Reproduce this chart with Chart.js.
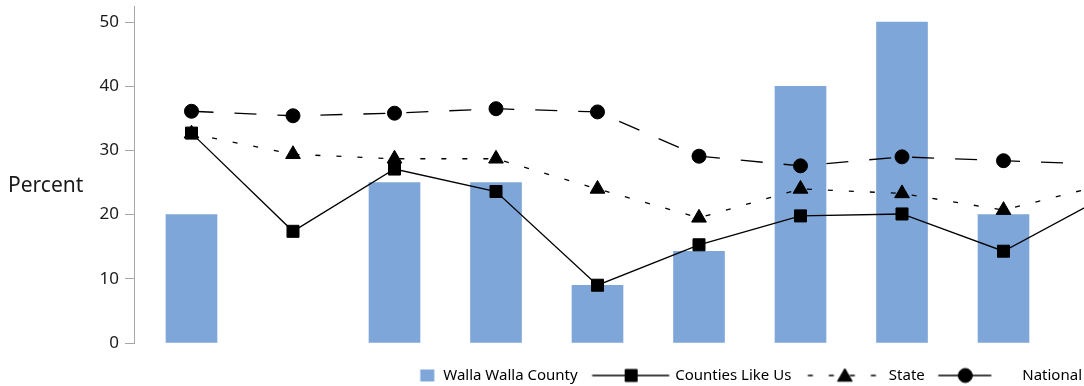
<!DOCTYPE html>
<html>
<head>
<meta charset="utf-8">
<script src="https://cdn.jsdelivr.net/npm/chart.js@4"></script>
<style>
html, body { margin: 0; padding: 0; background: #fff; overflow: hidden; }
</style>
</head>
<body>
<canvas id="mycanvas" width="1084" height="386"></canvas>
<script>
// data (10th point sits just past the right edge)
var categories = [1, 2, 3, 4, 5, 6, 7, 8, 9, 10];
var wallaWalla = [20, null, 25, 25, 9, 14.3, 40, 50, 20, null];
var countiesLikeUs = [32.7, 17.4, 27.1, 23.6, 9.0, 15.3, 19.8, 20.1, 14.3, 22.8];
var state = [32.6, 29.4, 28.7, 28.7, 24.0, 19.5, 24.0, 23.3, 20.7, 24.7];
var national = [36.1, 35.4, 35.8, 36.5, 36.0, 29.1, 27.6, 29.0, 28.4, 27.8];
var yTicks = [0, 10, 20, 30, 40, 50];
var seriesNames = ['Walla Walla County', 'Counties Like Us', 'State', 'National'];

var BAR_COLOR = '#7ea6d8';
var AXIS_GRAY = '#a6a6a6';
var TEXT = '#1a1a1a';

Chart.defaults.font.family = '"Noto Sans", sans-serif';

function points(values) {
	var out = [];
	for (var i in values) {
		out.push({ x: categories[i], y: values[i] });
	}
	return out;
}

// legend symbols: line + marker drawn into a small canvas used as pointStyle
var LEG_FONT = 15, LEG_BOX = 88, IMG_W = 200, IMG_H = 20;
function legendSymbol(draw) {
	var c = document.createElement('canvas');
	c.width = IMG_W;
	c.height = IMG_H;
	var g = c.getContext('2d');
	var t0 = IMG_W / 2 + LEG_BOX / 2 + LEG_FONT / 2;
	g.fillStyle = '#000';
	g.strokeStyle = '#000';
	g.lineWidth = 1.3;
	draw(g, t0, IMG_H / 2);
	return c;
}
function seg(g, x1, x2, y, dash) {
	g.save();
	g.setLineDash(dash || []);
	g.beginPath();
	g.moveTo(x1, y);
	g.lineTo(x2, y);
	g.stroke();
	g.restore();
}
function marker(g, style, r, x, y) {
	g.lineWidth = 1;
	Chart.helpers.drawPoint(g, { pointStyle: style, radius: r, rotation: 0, borderWidth: 1 }, x, y);
	g.lineWidth = 1.3;
}

var symbols = [
	legendSymbol(function(g, t, y) {
		g.fillStyle = BAR_COLOR;
		g.fillRect(t - 23, y - 6, 14, 12);
	}),
	legendSymbol(function(g, t, y) {
		seg(g, t - 83, t - 6, y);
		marker(g, 'rect', 8.5, t - 44, y);
	}),
	legendSymbol(function(g, t, y) {
		seg(g, t - 81, t - 11, y, [5, 16]);
		marker(g, 'triangle', 8.5, t - 44, y + 1.5);
	}),
	legendSymbol(function(g, t, y) {
		seg(g, t - 84, t - 31, y);
		marker(g, 'circle', 7, t - 57, y);
	})
];

var yTitle = {
	id: 'yTitle',
	afterDraw: function(chart) {
		var c = chart.ctx;
		c.save();
		c.font = '21px "Noto Sans", sans-serif';
		c.fillStyle = TEXT;
		c.textBaseline = 'middle';
		c.fillText('Percent', 8, 186);
		c.restore();
	}
};

function noPad(s) {
	s.paddingTop = 0;
	s.paddingBottom = 0;
	s.paddingLeft = 0;
	s.paddingRight = 0;
}

var chartdata = {
	datasets: [
		{
			type: 'line',
			label: seriesNames[1],
			data: points(countiesLikeUs),
			borderColor: '#000',
			borderWidth: 1.3,
			pointStyle: 'rect',
			pointRadius: 8.5,
			pointBackgroundColor: '#000',
			pointBorderColor: '#000',
			pointBorderWidth: 1,
			tension: 0,
			order: 1
		},
		{
			type: 'line',
			label: seriesNames[2],
			data: points(state),
			borderColor: '#000',
			borderWidth: 1.3,
			borderDash: [5, 16],
			pointStyle: 'triangle',
			pointRadius: 8.5,
			pointBackgroundColor: '#000',
			pointBorderColor: '#000',
			pointBorderWidth: 1,
			tension: 0,
			order: 2
		},
		{
			type: 'line',
			label: seriesNames[3],
			data: points(national),
			borderColor: '#000',
			borderWidth: 1.3,
			borderDash: [22, 21],
			pointStyle: 'circle',
			pointRadius: 7,
			pointBackgroundColor: '#000',
			pointBorderColor: '#000',
			pointBorderWidth: 1,
			tension: 0,
			order: 3
		},
		{
			type: 'bar',
			label: seriesNames[0],
			data: points(wallaWalla),
			backgroundColor: BAR_COLOR,
			barThickness: 51,
			order: 10
		}
	]
};

var ctx = document.getElementById('mycanvas');

var Graph = new Chart(ctx, {
	type: 'bar',
	data: chartdata,
	plugins: [yTitle],
	options: {
		responsive: false,
		animation: false,
		events: [],
		layout: { autoPadding: false, padding: { top: 6, left: 0, right: 0, bottom: 0 } },
		scales: {
			x: {
				type: 'linear',
				min: 0.4335,
				max: 9.7931,
				offset: false,
				grid: { display: false },
				border: { display: false },
				ticks: { display: false },
				afterFit: function(s) { s.height = 23; noPad(s); }
			},
			y: {
				min: 0,
				max: 52.5,
				ticks: {
					stepSize: 10,
					padding: 6,
					color: TEXT,
					font: { size: 17 }
				},
				afterBuildTicks: function(s) {
					s.ticks = yTicks.map(function(v) { return { value: v }; });
				},
				grid: { drawOnChartArea: false, tickLength: 9, color: AXIS_GRAY },
				border: { color: AXIS_GRAY, width: 1 },
				afterFit: function(s) { s.width = 134; noPad(s); }
			}
		},
		plugins: {
			tooltip: { enabled: false },
			legend: {
				position: 'bottom',
				align: 'end',
				maxHeight: 20,
				labels: {
					usePointStyle: true,
					pointStyleWidth: LEG_BOX,
					padding: 2,
					color: TEXT,
					font: { size: LEG_FONT },
					generateLabels: function(chart) {
						return seriesNames.map(function(name, i) {
							return {
								text: name,
								pointStyle: symbols[i],
								fillStyle: 'rgba(0,0,0,0)',
								strokeStyle: 'rgba(0,0,0,0)',
								lineWidth: 0,
								hidden: false
							};
						});
					}
				}
			}
		}
	}
});
</script>
</body>
</html>
